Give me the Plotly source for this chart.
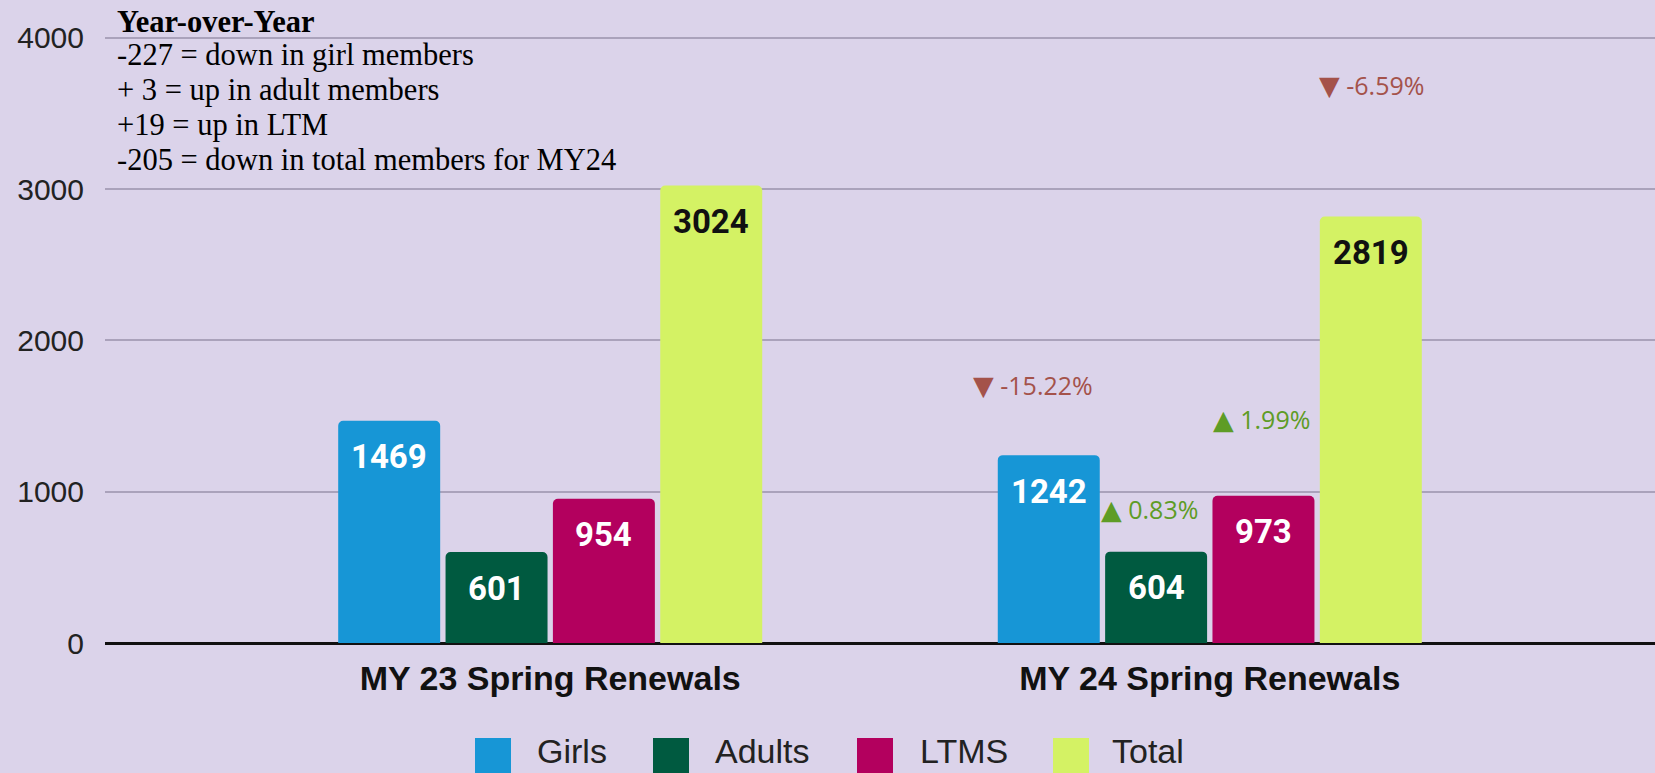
import plotly.graph_objects as go

# ---------------- data ----------------
categories = ["MY 23 Spring Renewals", "MY 24 Spring Renewals"]
series_names = ["Girls", "Adults", "LTMS", "Total"]
girls = [1469, 1242]
adults = [601, 604]
ltms = [954, 973]
total = [3024, 2819]
pct_change = [-15.22, 0.83, 1.99, -6.59]          # MY24 vs MY23, per series
yoy_title = "Year-over-Year"
yoy_lines = [
    "-227 = down in girl members",
    "+ 3 = up in adult members",
    "+19 = up in LTM",
    "-205 = down in total members for MY24",
]
y_ticks = [0, 1000, 2000, 3000, 4000]

# ---------------- style ----------------
series_values = [girls, adults, ltms, total]
bar_colors = ["#1796d6", "#005a40", "#b3005e", "#d4f264"]
label_colors = ["#ffffff", "#ffffff", "#ffffff", "#111111"]
bg = "#dbd3ea"
grid = "#aaa2bb"
up_color = "#5e9c26"
down_color = "#a4524a"

W, H = 1655, 773
ML, MR, MT, MB = 105, 0, 36, 130
Y_TOP = 4013
bargap = 0.349
bargroupgap = 0.05
n = len(series_names)
slot = (1 - bargap) / n

fig = go.Figure()
for i, name in enumerate(series_names):
    fig.add_trace(go.Bar(
        name=name, x=categories, y=series_values[i],
        marker=dict(color=bar_colors[i], cornerradius=5, line=dict(width=0)),
        showlegend=False, hoverinfo="x+y+name",
    ))

annotations = []
# value labels inside bars near the top
for i, name in enumerate(series_names):
    for j, v in enumerate(series_values[i]):
        xpos = j - (1 - bargap) / 2 + slot * (i + 0.5)
        annotations.append(dict(
            x=xpos, y=v, xref="x", yref="y", yanchor="middle", xanchor="center",
            yshift=-36, showarrow=False, text=f"<b>{v}</b>",
            font=dict(family="Roboto", size=33, color=label_colors[i]),
        ))

# percentage change markers above MY24 bars
pct_y = [1704, 884, 1479, 3690]
pct_dx = [-16, -7, -2, 1]
for i, p in enumerate(pct_change):
    xpos = 1 - (1 - bargap) / 2 + slot * (i + 0.5)
    arrow = "▲" if p > 0 else "▼"
    annotations.append(dict(
        x=xpos, y=pct_y[i], xref="x", yref="y", xanchor="center", yanchor="middle",
        xshift=pct_dx[i], showarrow=False,
        text=f"<span style='font-family:DejaVu Sans;font-size:27px'>{arrow}</span> {p:.2f}%",
        font=dict(family="Open Sans", size=25, color=up_color if p > 0 else down_color),
    ))

# Year-over-Year notes (top left)
plot_h = H - MT - MB
plot_w = W - ML - MR
def py(pix):
    return (H - MB - pix) / plot_h
def px(pix):
    return (pix - ML) / plot_w

note_x = px(115)
annotations.append(dict(
    x=note_x, y=py(22), xref="paper", yref="paper", xanchor="left", yanchor="middle",
    showarrow=False, text=f"<b>{yoy_title}</b>",
    font=dict(family="Liberation Serif", size=30.5, color="#000000"),
))
for k, line in enumerate(yoy_lines):
    annotations.append(dict(
        x=note_x, y=py(55 + 35 * k), xref="paper", yref="paper", xanchor="left",
        yanchor="middle", showarrow=False, text=line,
        font=dict(family="Liberation Serif", size=30.5, color="#000000"),
    ))

# custom legend (large swatches)
shapes = []
swatch_left = [475, 653, 857, 1053]
text_left = [535, 713, 918, 1110]
for i, name in enumerate(series_names):
    shapes.append(dict(
        type="rect", xref="paper", yref="paper",
        x0=px(swatch_left[i]), x1=px(swatch_left[i] + 36),
        y0=py(738), y1=py(774),
        fillcolor=bar_colors[i], line=dict(width=0),
    ))
    annotations.append(dict(
        x=px(text_left[i]), y=py(751), xref="paper", yref="paper",
        xanchor="left", yanchor="middle", showarrow=False, text=name,
        font=dict(family="Liberation Sans", size=34, color="#222222"),
    ))

fig.update_layout(
    width=W, height=H,
    margin=dict(l=ML, r=MR, t=MT, b=MB, pad=0),
    paper_bgcolor=bg, plot_bgcolor=bg,
    barmode="group", bargap=bargap, bargroupgap=bargroupgap,
    annotations=annotations, shapes=shapes,
    showlegend=False,
    xaxis=dict(
        type="category", range=[-0.675, 1.675], showgrid=False, showline=False,
        zeroline=False, ticks="", ticklabelstandoff=12,
        tickfont=dict(family="Liberation Sans", size=34, color="#111111", weight="bold"),
        fixedrange=True,
    ),
    yaxis=dict(
        range=[0, Y_TOP], tickvals=y_ticks, showgrid=True, gridcolor=grid, gridwidth=2,
        zeroline=True, zerolinecolor="#111111", zerolinewidth=3, showline=False,
        ticks="", ticklabelstandoff=20,
        tickfont=dict(family="Liberation Sans", size=30, color="#222222"),
        fixedrange=True,
    ),
)

fig.write_html(
    "out.html",
    config={"displayModeBar": False},
    post_script="document.body.style.margin='0';document.body.style.padding='0';"
                "document.body.style.overflow='hidden';",
)
